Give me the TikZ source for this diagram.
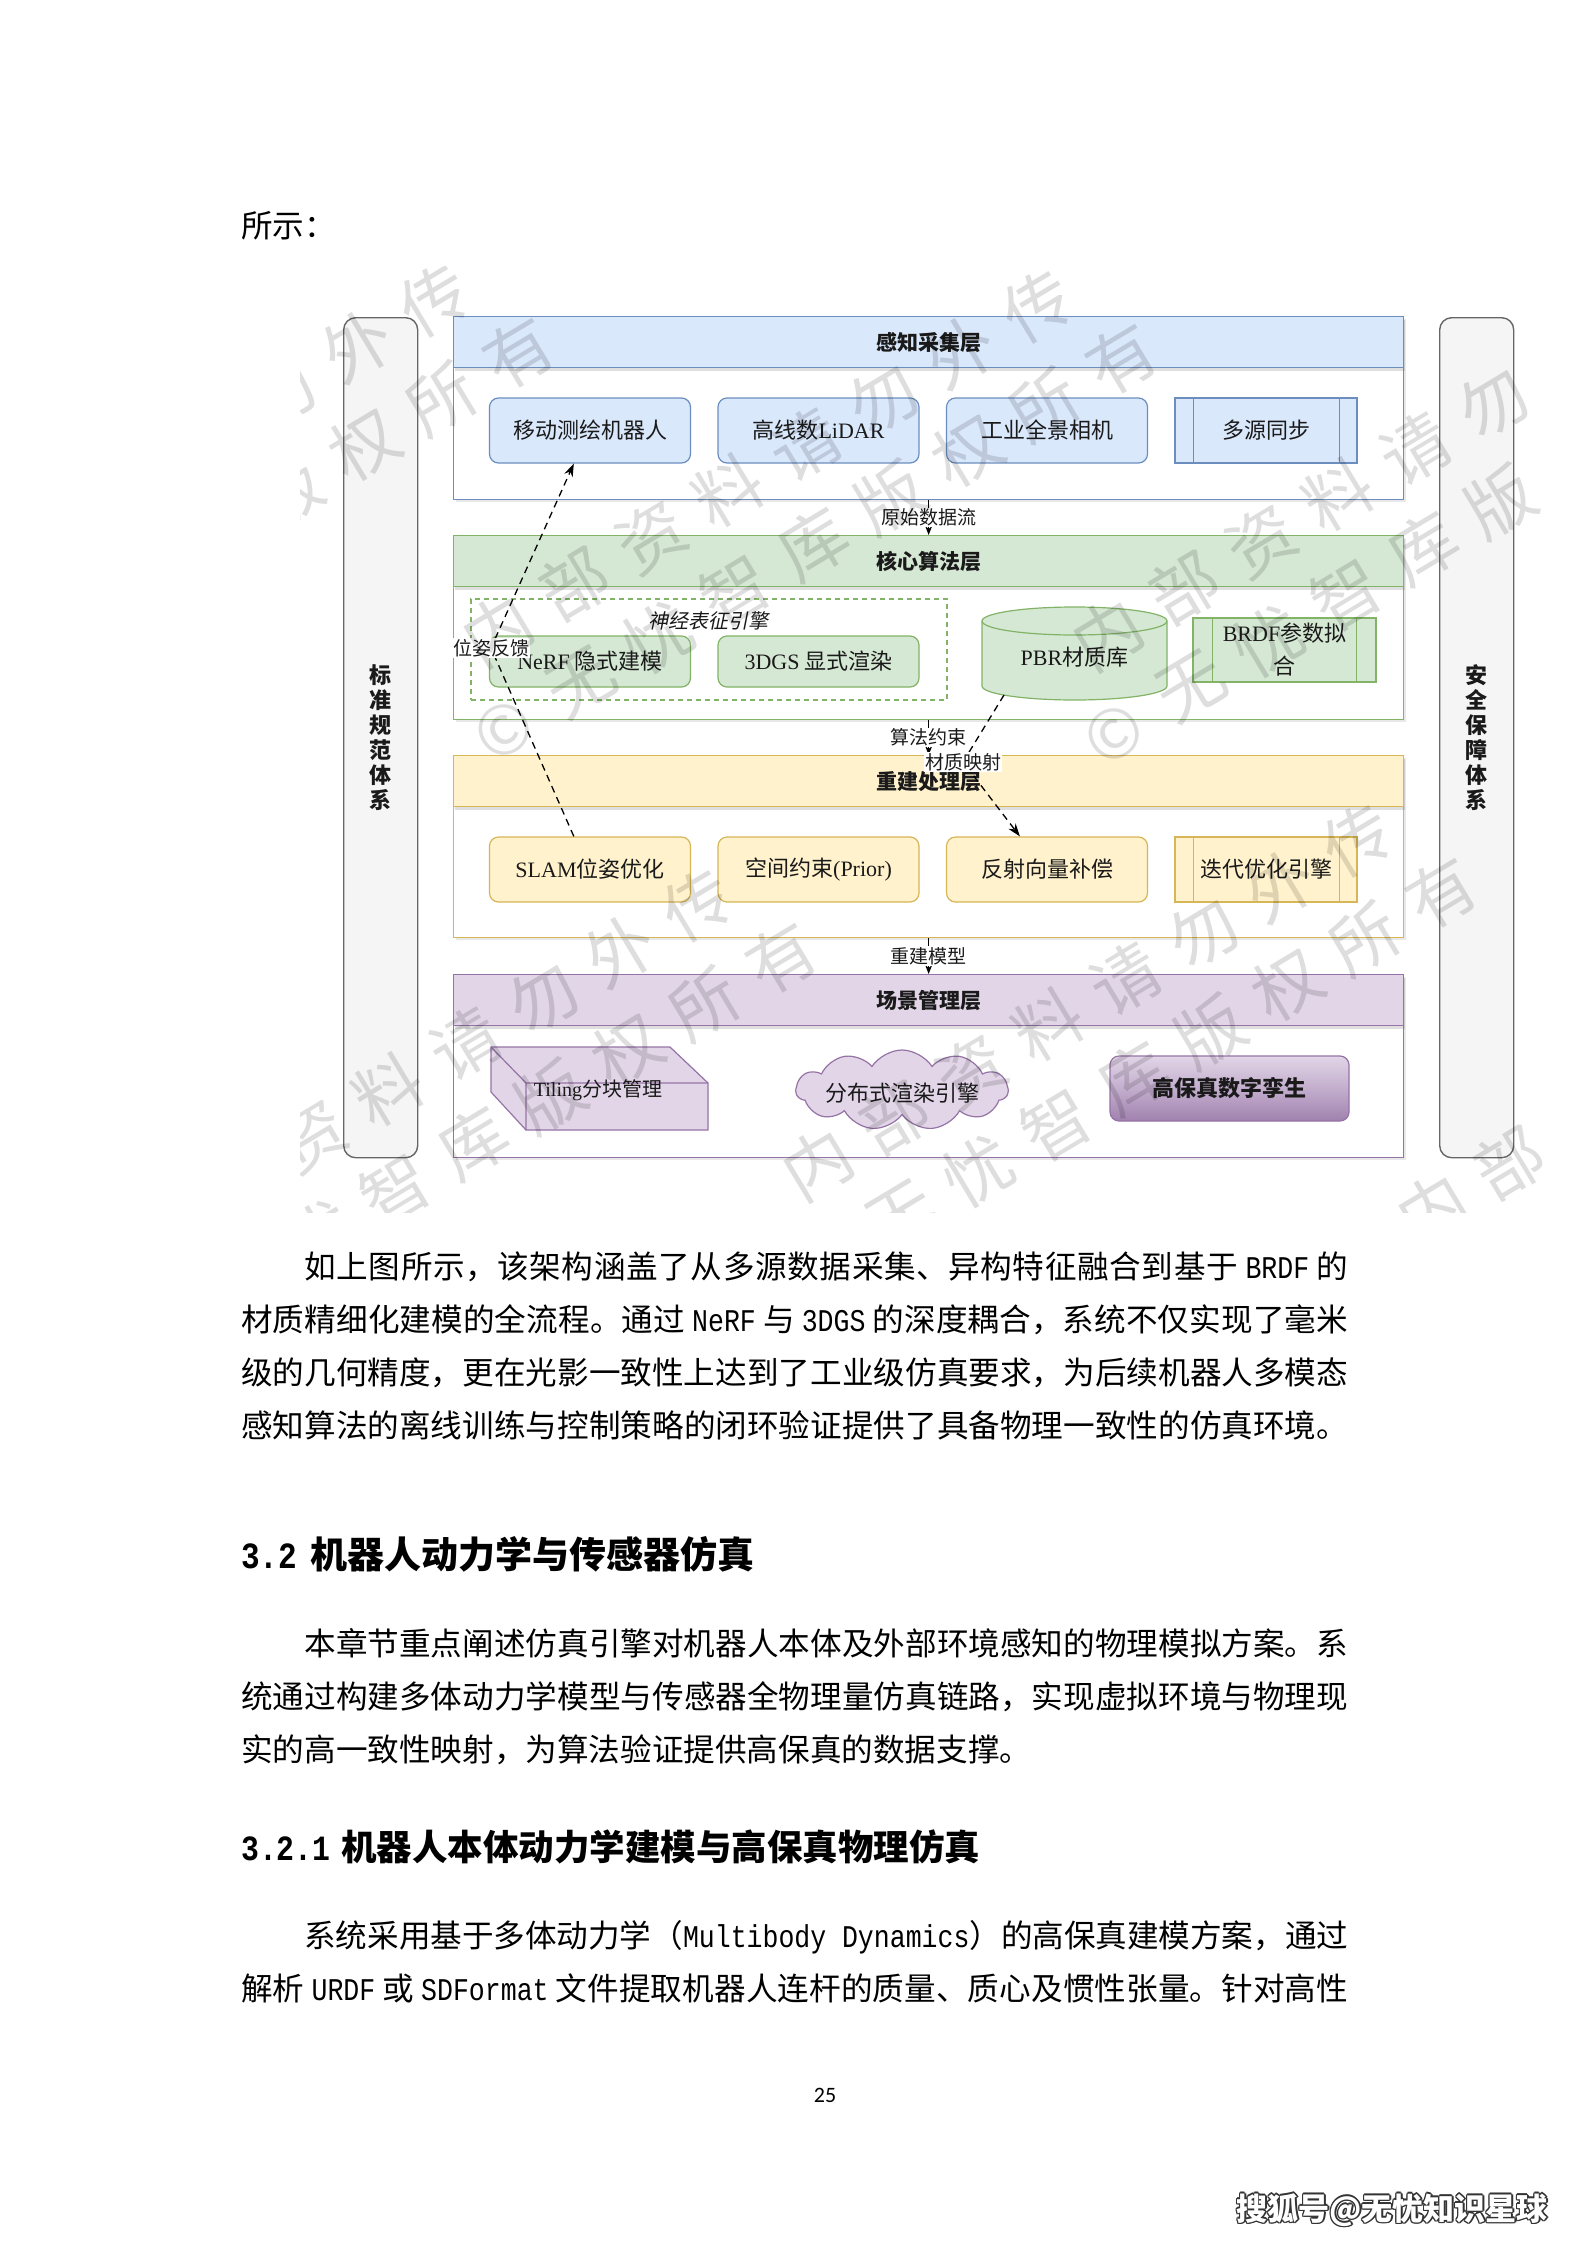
\documentclass[tikz,border=0pt]{standalone}
\usepackage{fontspec}
\setmainfont{Noto Sans CJK SC}
\newfontfamily\lat{Liberation Serif}
\newfontfamily\mono[FakeStretch=0.84]{Liberation Mono}
\newfontfamily\cjki[FakeSlant=0.2]{Noto Sans CJK SC}
\newfontfamily\pgnum{Carlito}
\usetikzlibrary{shapes.geometric,shapes.symbols,arrows.meta,shadows,calc}
\XeTeXlinebreaklocale "zh"
\XeTeXlinebreakskip=0pt plus 8pt minus 1.5pt
\definecolor{bF}{HTML}{DAE8FC}\definecolor{bS}{HTML}{6C8EBF}
\definecolor{gF}{HTML}{D5E8D4}\definecolor{gS}{HTML}{82B366}
\definecolor{yF}{HTML}{FFF2CC}\definecolor{yS}{HTML}{D6B656}
\definecolor{pF}{HTML}{E1D5E7}\definecolor{pS}{HTML}{9673A6}
\definecolor{sideF}{HTML}{F5F5F5}\definecolor{sideS}{HTML}{666666}
\definecolor{txt}{HTML}{1A1A1A}
\newcommand\fsz[1]{\fontsize{#1pt}{#1pt}\selectfont}
\newcommand\jline[1]{\parbox[t]{1107pt}{\parfillskip=0pt\relax #1}}
\tikzset{
  bodyline/.style={anchor=base west, inner sep=0pt, font=\fsz{31.6}, text=black},
  lbody/.style={draw=#1, fill=white, line width=1.3pt, minimum width=950pt, anchor=north west, inner sep=0pt,
    drop shadow={shadow xshift=2pt, shadow yshift=-2pt, opacity=0.18}},
  lhead/.style 2 args={draw=#2, fill=#1, line width=1.3pt, minimum width=950pt, minimum height=51pt, anchor=north west,
    inner sep=0pt, font=\fsz{21}\bfseries, text=txt, drop shadow={shadow xshift=1pt, shadow yshift=-3pt, opacity=0.25}},
  item/.style 2 args={draw=#2, fill=#1, line width=1.2pt, rounded corners=9pt, minimum width=201pt, minimum height=65pt,
    inner sep=0pt, font=\fsz{22}, text=txt},
  proc/.style 2 args={draw=#2, fill=#1, line width=1.2pt, minimum width=182pt, minimum height=65pt,
    inner sep=0pt, font=\fsz{22}, text=txt},
  flow/.style={line width=1.4pt, -{Stealth[length=9pt,width=7pt]}},
  elbl/.style={fill=white, inner sep=1pt, font=\fsz{19}, text=txt},
  fb/.style={line width=1.3pt, dash pattern=on 7pt off 5pt, -{Stealth[length=13pt,width=9pt]}},
  side/.style={draw=sideS, fill=sideF, line width=1.4pt, rounded corners=12pt, minimum width=74pt, minimum height=840pt,
    anchor=north west, inner sep=0pt, align=center, font=\fontsize{22pt}{25pt}\selectfont\bfseries, text=txt},
  wmc/.style={rotate=31, inner sep=0pt, text=black, text opacity=0.13, font=\fsz{68}},
}
\begin{document}
\begin{tikzpicture}[x=1pt, y=-1pt]
\fill[white] (0,0) rectangle (1587,2245);
\useasboundingbox (0,0) rectangle (1587,2245);

% ---------- text above ----------
\node[bodyline] (t0) at (241,237) {所示：};

% ---------- side boxes ----------
\node[side] (std) at (343,317) {标\\准\\规\\范\\体\\系};
\node[side] (sec) at (1439,317) {安\\全\\保\\障\\体\\系};

% ---------- layers ----------
\node[lbody=bS, minimum height=183pt] (L1) at (453,316) {};
\node[lhead={bF}{bS}] (H1) at (453,316) {感知采集层};
\node[lbody=gS, minimum height=184pt] (L2) at (453,535) {};
\node[lhead={gF}{gS}] (H2) at (453,535) {核心算法层};
\node[lbody=yS, minimum height=182pt] (L3) at (453,755) {};
\node[lhead={yF}{yS}] (H3) at (453,755) {重建处理层};
\node[lbody=pS, minimum height=183pt] (L4) at (453,974) {};
\node[lhead={pF}{pS}] (H4) at (453,974) {场景管理层};

% ---------- layer 1 items ----------
\node[item={bF}{bS}] (a1) at (590,430.5) {移动测绘机器人};
\node[item={bF}{bS}] (a2) at (818.5,430.5) {高线数{\lat LiDAR}};
\node[item={bF}{bS}] (a3) at (1047,430.5) {工业全景相机};
\node[proc={bF}{bS}] (a4) at (1266,430.5) {多源同步};
\draw[bS, line width=1.2pt] ($(a4.north west)+(19,0)$) -- ($(a4.south west)+(19,0)$)
  ($(a4.north east)+(-18,0)$) -- ($(a4.south east)+(-18,0)$);

% ---------- layer 2 items ----------
\node[draw=gS, line width=1.2pt, dash pattern=on 5pt off 4pt, minimum width=476pt, minimum height=101pt, inner sep=0pt] (grp) at (709,649.5) {};
\node[font=\fsz{20}\cjki, text=txt, inner sep=0pt] (grpl) at (708,621) {神经表征引擎};
\node[item={gF}{gS}, minimum height=51pt] (n1) at (590,661.5) {{\lat NeRF} 隐式建模};
\node[item={gF}{gS}, minimum height=51pt] (n2) at (818.5,661.5) {{\lat 3DGS} 显式渲染};
% cylinder
\path[fill=gF, draw=gS, line width=1.2pt] (982,621) -- (982,686)
  arc[start angle=180, end angle=360, x radius=92.5pt, y radius=14pt] -- (1167,621)
  arc[start angle=0, end angle=180, x radius=92.5pt, y radius=14pt] -- cycle;
\draw[gS, line width=1.2pt] (982,621) arc[start angle=180, end angle=360, x radius=92.5pt, y radius=14pt];
\node[font=\fsz{22}, text=txt, inner sep=0pt] (pbr) at (1074.5,657) {{\lat PBR}材质库};
\coordinate (pbrb) at (1004,695);
\node[proc={gF}{gS}, minimum width=183pt, minimum height=64pt, align=center, font=\fontsize{22pt}{33pt}\selectfont] (brdf) at (1284.5,650) {{\lat BRDF}参数拟\\合};
\draw[gS, line width=1.2pt] ($(brdf.north west)+(20,0)$) -- ($(brdf.south west)+(20,0)$)
  ($(brdf.north east)+(-20,0)$) -- ($(brdf.south east)+(-20,0)$);

% ---------- layer 3 items ----------
\node[item={yF}{yS}] (b1) at (590,869.5) {{\lat SLAM}位姿优化};
\node[item={yF}{yS}] (b2) at (818.5,869.5) {空间约束{\lat (Prior)}};
\node[item={yF}{yS}] (b3) at (1047,869.5) {反射向量补偿};
\node[proc={yF}{yS}] (b4) at (1266,869.5) {迭代优化引擎};
\draw[yS, line width=1.2pt] ($(b4.north west)+(19,0)$) -- ($(b4.south west)+(19,0)$)
  ($(b4.north east)+(-18,0)$) -- ($(b4.south east)+(-18,0)$);

% ---------- layer 4 items ----------
\path[fill=pF, draw=pS, line width=1.2pt] (491,1047) -- (670,1047) -- (708,1083) -- (708,1130) -- (526,1130) -- (491,1092) -- cycle;
\draw[pS, line width=1.2pt] (491,1047) -- (526,1083) -- (708,1083) (526,1083) -- (526,1130);
\node[font=\fsz{20}, text=txt, inner sep=0pt] (tile) at (598,1090) {{\lat Tiling}分块管理};
\node[cloud, cloud puffs=11, cloud puff arc=115, aspect=2.5, draw=pS, fill=pF, line width=1.2pt,
  minimum width=212pt, minimum height=80pt, inner sep=0pt] (cl) at (902,1090) {};
\node[font=\fsz{22}, text=txt, inner sep=0pt] (cll) at (902,1093) {分布式渲染引擎};
\node[draw=pS, line width=1.2pt, rounded corners=9pt, top color=pF, bottom color=pS!90, middle color=pF!60!pS,
  minimum width=239pt, minimum height=65pt, inner sep=0pt, font=\fsz{22}\bfseries, text=txt] (twin) at (1229.5,1088.5) {高保真数字孪生};

% ---------- dashed feedback edges ----------
\coordinate (pfc) at (491,648);
\coordinate (mmc) at (963,762);
\draw[fb] ($(b1.north west)!0.42!(b1.north east)$) -- (pfc) -- ($(a1.south west)!0.42!(a1.south east)$);
\draw[fb] (pbrb) -- (mmc) -- ($(b3.north west)!0.366!(b3.north east)$);

% ---------- flow arrows ----------
\draw[flow] (L1.south) -- (L2.north) node[midway, elbl] (f1) {原始数据流};
\draw[flow] (L2.south) -- (L3.north) node[midway, elbl] (f2) {算法约束};
\draw[flow] (L3.south) -- (L4.north) node[midway, elbl] (f3) {重建模型};

\node[elbl] (pf) at (pfc) {位姿反馈};
\node[elbl] (mm) at (mmc) {材质映射};

% ---------- image watermark ----------
\begin{scope}
\clip (300,266) rectangle (1553,1212);
\foreach \cx/\cy [count=\ti] in {187/500,790/506,1400/510,450/1105,1110/1040,1725/1085}{
  \foreach \ch [count=\ki] in {内,部,资,料,请,勿,外,传}{
    \pgfmathsetmacro\wx{\cx+(\ki-4.5)*90*0.8572-44.5*0.5150}
    \pgfmathsetmacro\wy{\cy-(\ki-4.5)*90*0.5150-44.5*0.8572}
    \pgfmathtruncatemacro\ok{(\wx>268)*(\wx<1548)*(\wy>236)*(\wy<1244)}
    \ifnum\ok=1 \node[wmc] (wa\ti-\ki) at (\wx,\wy) {\ch};\fi
  }
  \foreach \ch [count=\ki] in {©,无,忧,智,库,版,权,所,有}{
    \pgfmathsetmacro\wx{\cx+(\ki-5)*90*0.8572+44.5*0.5150}
    \pgfmathsetmacro\wy{\cy-(\ki-5)*90*0.5150+44.5*0.8572}
    \pgfmathtruncatemacro\ok{(\wx>268)*(\wx<1548)*(\wy>236)*(\wy<1244)}
    \ifnum\ok=1 \node[wmc] (wb\ti-\ki) at (\wx,\wy) {\ch};\fi
  }
}
\end{scope}

% ---------- body text ----------
\node[bodyline] (p1a) at (241,1278) {\jline{\hspace*{2em}如上图所示，该架构涵盖了从多源数据采集、异构特征融合到基于 {\mono BRDF} 的}};
\node[bodyline] (p1b) at (241,1331) {\jline{材质精细化建模的全流程。通过 {\mono NeRF} 与 {\mono 3DGS} 的深度耦合，系统不仅实现了毫米}};
\node[bodyline] (p1c) at (241,1384) {\jline{级的几何精度，更在光影一致性上达到了工业级仿真要求，为后续机器人多模态}};
\node[bodyline] (p1d) at (241,1437) {\jline{感知算法的离线训练与控制策略的闭环验证提供了具备物理一致性的仿真环境。}};

\node[bodyline, font=\fsz{37}\bfseries] (h1) at (241,1568) {{\mono 3.2}\hspace{0.35em}机器人动力学与传感器仿真};

\node[bodyline] (p2a) at (241,1655) {\jline{\hspace*{2em}本章节重点阐述仿真引擎对机器人本体及外部环境感知的物理模拟方案。系}};
\node[bodyline] (p2b) at (241,1708) {\jline{统通过构建多体动力学模型与传感器全物理量仿真链路，实现虚拟环境与物理现}};
\node[bodyline] (p2c) at (241,1761) {实的高一致性映射，为算法验证提供高保真的数据支撑。};

\node[bodyline, font=\fsz{35.5}\bfseries] (h2) at (241,1860) {{\mono 3.2.1}\hspace{0.3em}机器人本体动力学建模与高保真物理仿真};

\node[bodyline] (p3a) at (241,1947) {\jline{\hspace*{2em}系统采用基于多体动力学（{\mono Multibody Dynamics}）的高保真建模方案，通过}};
\node[bodyline] (p3b) at (241,2000) {\jline{解析 {\mono URDF} 或 {\mono SDFormat} 文件提取机器人连杆的质量、质心及惯性张量。针对高性}};

\node[font=\pgnum\fsz{22}, inner sep=0pt] (pg) at (825,2095) {25};

% ---------- footer mark ----------
\foreach \dx/\dy [count=\i] in {-1.5/0,1.5/0,0/-1.5,0/1.5,-1.1/-1.1,1.1/1.1,-1.1/1.1,1.1/-1.1}
  \node[anchor=east, inner sep=0pt, font=\fsz{31}\bfseries, text=black!80] (wmk\i) at (1548+\dx,2210+\dy) {搜狐号@无忧知识星球};
\node[anchor=east, inner sep=0pt, font=\fsz{31}\bfseries, text=white] (wmk) at (1548,2210) {搜狐号@无忧知识星球};
\end{tikzpicture}
\end{document}
